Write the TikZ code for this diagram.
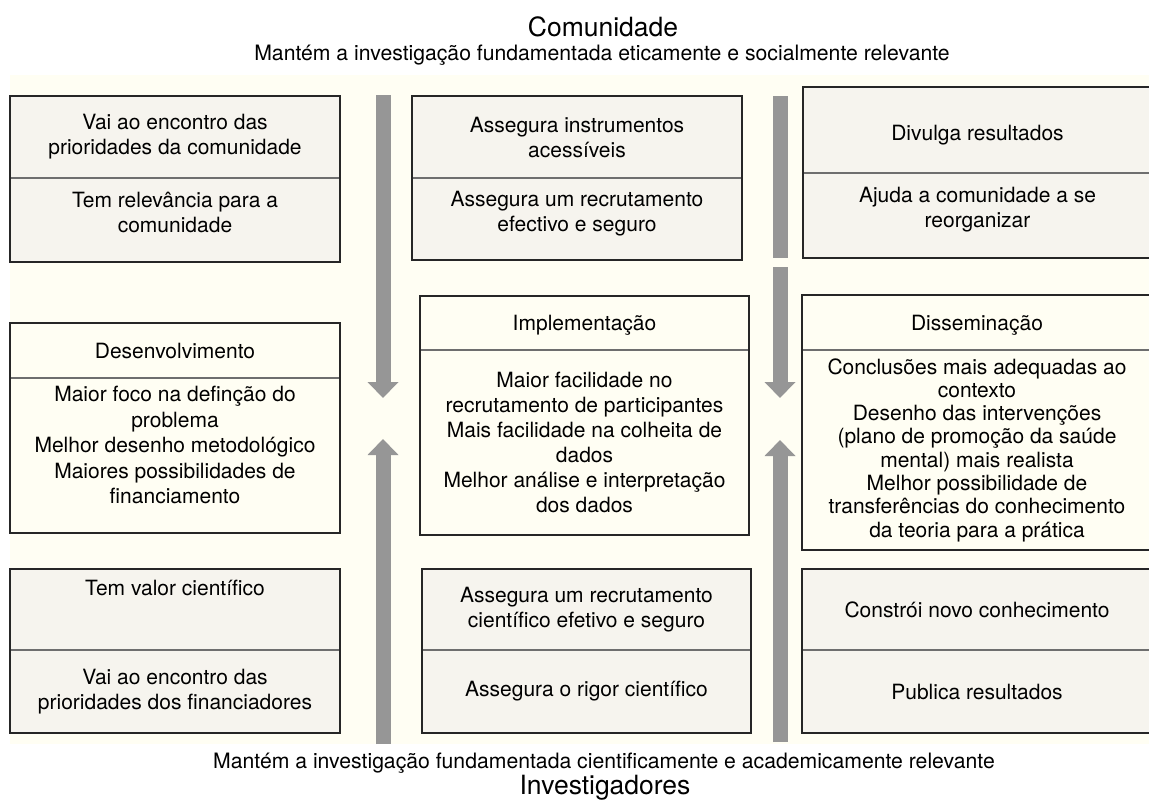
\documentclass[tikz,border=0pt]{standalone}
\usepackage{fontspec}
\setmainfont{TeX Gyre Heros}
\usepackage{tikz}
\definecolor{BgCream}{HTML}{FFFEF3}
\definecolor{BoxFill}{HTML}{F6F4EE}
\definecolor{DivGray}{HTML}{6E6E6E}
\definecolor{ArrowGray}{HTML}{969696}
\usetikzlibrary{arrows.meta,positioning}
\newcommand\boxfont{\fontsize{21}{25}\selectfont}
\newcommand\subfont{\fontsize{21.2}{26}\selectfont}
\newcommand\titfont{\fontsize{26.5}{30}\selectfont}

\begin{document}
\begin{tikzpicture}[
x=1pt, y=-1pt,
part/.style={
	rectangle,
	draw=DivGray,
	line width=1.1pt,
	fill=BoxFill,
	inner sep=0pt,
	outer sep=0pt,
	align=center,
	font=\boxfont
},
head/.style={
	part,
	fill=BgCream,
	text depth=0pt
},
frame/.style={
	draw=black!85,
	line width=1.8pt
},
bigarrow/.style={
	draw=ArrowGray,
	line width=15pt,
	-{Triangle[width=30pt,length=16pt]}
},
]

\useasboundingbox (0,0) rectangle (1149,804);
\fill[BgCream] (10,75) rectangle (1149,744);

% titles
\node[font=\titfont] (com) at (603,27) {Comunidade};
\node[font=\subfont] (comS) at (602,55) {Mantém a investigação fundamentada eticamente e socialmente relevante};
\node[font=\subfont] (invS) at (604,763) {Mantém a investigação fundamentada cientificamente e academicamente relevante};
\node[font=\titfont] (inv) at (605,788) {Investigadores};

% arrows
\coordinate (aL1) at (383,95);
\coordinate (aL2) at (383,398);
\coordinate (aL3) at (383,744);
\coordinate (aL4) at (383,439);
\coordinate (aR0) at (780,96);
\coordinate (aR1) at (780,258);
\coordinate (aR2) at (780,267);
\coordinate (aR3) at (780,398);
\coordinate (aR4) at (780,742);
\coordinate (aR5) at (780,440);

\draw[bigarrow] (aL1) to (aL2);
\draw[bigarrow] (aL3) to (aL4);
\draw[draw=ArrowGray, line width=15pt] (aR0) to (aR1);
\draw[bigarrow] (aR2) to (aR3);
\draw[bigarrow] (aR4) to (aR5);

% top row
\node[part, minimum width=330, minimum height=82, anchor=north west] (cL1) at (10,96) {Vai ao encontro das\\prioridades da comunidade};
\node[part, minimum width=330, minimum height=84, below=0pt of cL1] (cL2) {Tem relevância para a\\comunidade\\[-9pt]};
\node[part, minimum width=330, minimum height=82, anchor=north west] (cM1) at (412,96) {Assegura instrumentos\\acessíveis};
\node[part, minimum width=330, minimum height=82, below=0pt of cM1] (cM2) {Assegura um recrutamento\\efectivo e seguro\\[-9pt]};
\node[part, minimum width=349, minimum height=86, anchor=north west, text depth=0pt] (cR1) at (803,87) {\rule{0pt}{21pt}Divulga resultados};
\node[part, minimum width=349, minimum height=85, below=0pt of cR1] (cR2) {Ajuda a comunidade a se\\reorganizar\\[-9pt]};

\draw[frame] (cL1.north west) rectangle (cL2.south east);
\draw[frame] (cM1.north west) rectangle (cM2.south east);
\draw[frame] (cR1.north west) rectangle (cR2.south east);

% middle row
\node[head, minimum width=330, minimum height=55, anchor=north west] (dev) at (10,323) {Desenvolvimento};
\node[part, fill=BgCream, minimum width=330, minimum height=155, below=0pt of dev, font=\fontsize{21}{25.5}\selectfont] (devB) {Maior foco na definção do\\problema\\Melhor desenho metodológico\\Maiores possibilidades de\\financiamento\\[-5pt]};
\node[head, minimum width=329, minimum height=54, anchor=north west] (imp) at (420,296) {Implementação};
\node[part, fill=BgCream, minimum width=329, minimum height=185, below=0pt of imp] (impB) {Maior facilidade no\\recrutamento de participantes\\Mais facilidade na colheita de\\dados\\Melhor análise e interpretação\\dos dados};
\node[head, minimum width=350, minimum height=55, anchor=north west] (dis) at (802,295) {Disseminação};
\node[part, fill=BgCream, minimum width=350, minimum height=200, below=0pt of dis, font=\fontsize{21}{23.3}\selectfont] (disB) {Conclusões mais adequadas ao\\contexto\\Desenho das intervenções\\(plano de promoção da saúde\\mental) mais realista\\Melhor possibilidade de\\transferências do conhecimento\\da teoria para a prática};

\draw[frame] (dev.north west) rectangle (devB.south east);
\draw[frame] (imp.north west) rectangle (impB.south east);
\draw[frame] (dis.north west) rectangle (disB.south east);

% bottom row
\node[part, minimum width=330, minimum height=81, anchor=north west] (iL1) at (10,569) {Tem valor científico\\[18pt]};
\node[part, minimum width=330, minimum height=83, below=0pt of iL1] (iL2) {Vai ao encontro das\\prioridades dos financiadores};
\node[part, minimum width=329, minimum height=81, anchor=north west] (iM1) at (422,569) {Assegura um recrutamento\\científico efetivo e seguro};
\node[part, minimum width=329, minimum height=83, below=0pt of iM1] (iM2) {Assegura o rigor científico};
\node[part, minimum width=350, minimum height=81, anchor=north west] (iR1) at (802,569) {Constrói novo conhecimento};
\node[part, minimum width=350, minimum height=83, below=0pt of iR1] (iR2) {Publica resultados};

\draw[frame] (iL1.north west) rectangle (iL2.south east);
\draw[frame] (iM1.north west) rectangle (iM2.south east);
\draw[frame] (iR1.north west) rectangle (iR2.south east);

\end{tikzpicture}
\end{document}
